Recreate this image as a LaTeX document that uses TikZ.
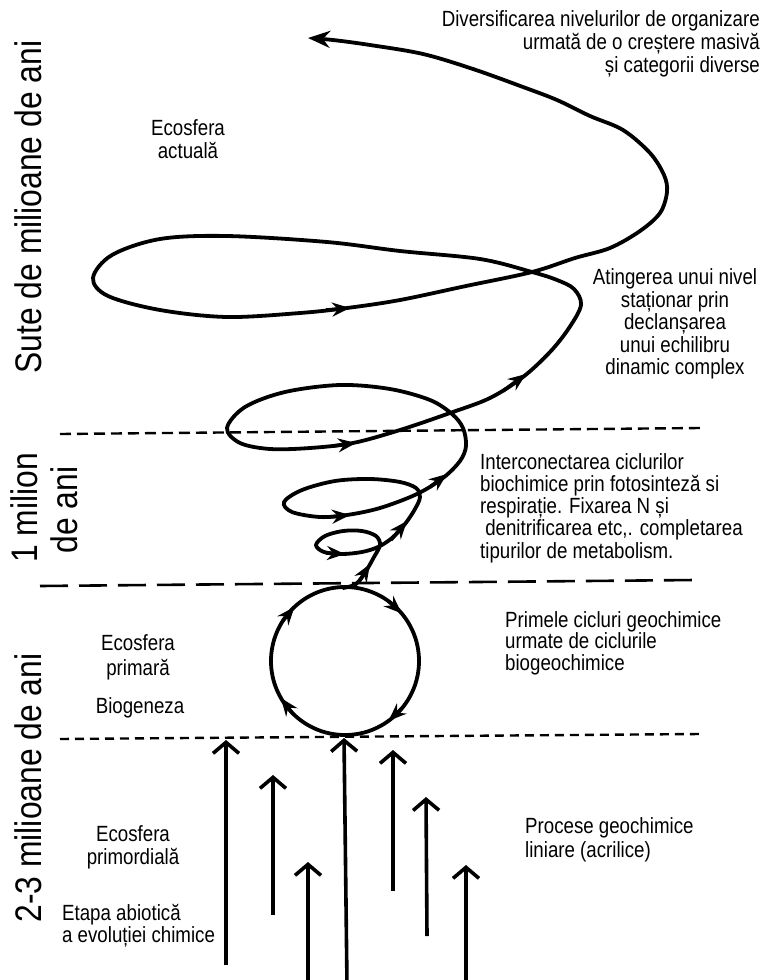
\documentclass[tikz,border=0pt]{standalone}
\usepackage{fontspec}
\setmainfont{Liberation Sans}
\usetikzlibrary{arrows.meta,calc}
\begin{document}
\begin{tikzpicture}[x=1pt,y=-1pt,
  curve/.style={line width=3.8pt, line cap=round, line join=round},
  tipS/.style={line width=3.5pt, -{Stealth[length=18pt,width=14pt,inset=6pt]}},
  bigtip/.style={line width=3.8pt, -{Stealth[length=22pt,width=17pt,inset=7pt]}},
  upar/.style={line width=3.6pt, -{Straight Barb[length=11pt,width=26pt]}},
  lbl/.style={font=\fontsize{22}{23}\selectfont, inner sep=0pt, xscale=0.85},
  side/.style={font=\fontsize{37}{40}\selectfont, rotate=90, inner sep=0pt},
  ]
\useasboundingbox (0,0) rectangle (764,980);

% dashed boundaries
\draw[line width=2.4pt, dash pattern=on 11pt off 6pt] (60,434) -- (700,428);
\draw[line width=2.6pt, dash pattern=on 28pt off 11pt] (40,586) -- (695,580);
\draw[line width=2.4pt, dash pattern=on 9pt off 6pt] (60,739) -- (700,734);

% circle of primary cycles
\coordinate (C) at (345,661);
\draw[curve] (C) circle[radius=74];
\foreach \a in {227,320,54,150}{
  \draw[tipS] ($(C)+(\a-14:74)$) -- ($(C)+(\a:74)$);
}

% spiral
\draw[curve, bigtip] plot[smooth, tension=0.55] coordinates {
 (343,588) (356,584) (366,571) (374,557) (380,545) (376,536) (362,531) (343,531)
 (325,536) (316,545) (324,552) (342,554) (362,552) (378,547) (392,538) (405,524)
 (415,509) (420,497) (416,488) (400,482) (370,479) (335,481) (302,490) (284,502)
 (292,512) (320,517) (347,515) (380,508) (417,494) (443,478) (460,461) (466,446)
 (463,428) (452,414) (430,400) (390,389) (340,385) (285,392) (245,407) (227,428)
 (240,443) (270,449) (310,448) (353,443) (400,430) (450,413) (490,398) (523,377)
 (550,352) (569,328) (581,305) (574,289) (557,280) (532,272) (480,259) (400,251)
 (327,242) (227,236) (160,239) (112,255) (93,278) (108,296) (160,310) (227,317)
 (300,313) (347,308) (400,300) (466,286) (532,272) (575,258) (610,248) (640,231)
 (660,213) (667,192) (664,175) (650,153) (623,130) (590,116) (557,100) (523,87)
 (473,69) (423,54) (370,45) (333,40) (308,38)};

% arrowheads along the spiral
\draw[tipS] (359,582) -- (370,564);
\draw[tipS] (326,553) -- (345,554);
\draw[tipS] (391,540) -- (407,521);
\draw[tipS] (328,517) -- (350,515);
\draw[tipS] (430,487) -- (447,474);
\draw[tipS] (333,446) -- (356,443);
\draw[tipS] (503,391) -- (526,374);
\draw[tipS] (326,310) -- (350,308);

% linear processes (upward arrows)
\coordinate (b1) at (226,965); \coordinate (e1) at (226,740);
\coordinate (b2) at (273,915); \coordinate (e2) at (273,775);
\coordinate (b3) at (308,985); \coordinate (e3) at (308,862);
\coordinate (b4) at (347,985); \coordinate (e4) at (344,738);
\coordinate (b5) at (393,891); \coordinate (e5) at (393,750);
\coordinate (b6) at (427,936); \coordinate (e6) at (426,797);
\coordinate (b7) at (466,985); \coordinate (e7) at (466,865);
\foreach \i in {1,...,7}{\draw[upar] (b\i) -- (e\i);}

% texts
\node[lbl, align=right, anchor=east] (tdiv) at (760,44)
  {Diversificarea nivelurilor de organizare\\urmată de o creștere masivă\\și categorii diverse};
\node[lbl, align=center] (tact) at (188,139) {Ecosfera\\actuală};
\node[lbl, align=center, font=\fontsize{22}{22.5}\selectfont] (tatin) at (675,324)
  {Atingerea unui nivel\\staționar prin\\declanșarea\\unui echilibru\\dinamic complex};
\node[lbl, align=left, anchor=west, font=\fontsize{22}{22.3}\selectfont] (tint) at (480,508)
  {Interconectarea ciclurilor\\biochimice prin fotosinteză si\\respirație. Fixarea N și\\\hspace*{6pt}denitrificarea etc,. completarea\\tipurilor de metabolism.};
\node[lbl, align=left, anchor=west, font=\fontsize{22}{21.5}\selectfont] (tprim) at (505,643)
  {Primele cicluri geochimice\\urmate de ciclurile\\biogeochimice};
\node[lbl, align=center, font=\fontsize{22}{25}\selectfont] (tecp) at (138,657) {Ecosfera\\primară};
\node[lbl] (tbio) at (140,708) {Biogeneza};
\node[lbl, align=center] (tecpm) at (133,847) {Ecosfera\\primordială};
\node[lbl, align=left, anchor=west, font=\fontsize{22}{22}\selectfont] (tetapa) at (62,926)
  {Etapa abiotică\\a evoluției chimice};
\node[lbl, align=left, anchor=west, font=\fontsize{22}{24}\selectfont] (tproc) at (525,840)
  {Procese geochimice\\liniare (acrilice)};

% side labels
\node[side] (s1) at (28,207) {\scalebox{0.86}[1]{Sute de milioane de ani}};
\node[side] (s2a) at (24,508) {\scalebox{0.86}[1]{1 milion}};
\node[side] (s2b) at (64,510) {\scalebox{0.86}[1]{de ani}};
\node[side] (s3) at (28,788) {\scalebox{0.86}[1]{2-3 milioane de ani}};
\end{tikzpicture}
\end{document}
